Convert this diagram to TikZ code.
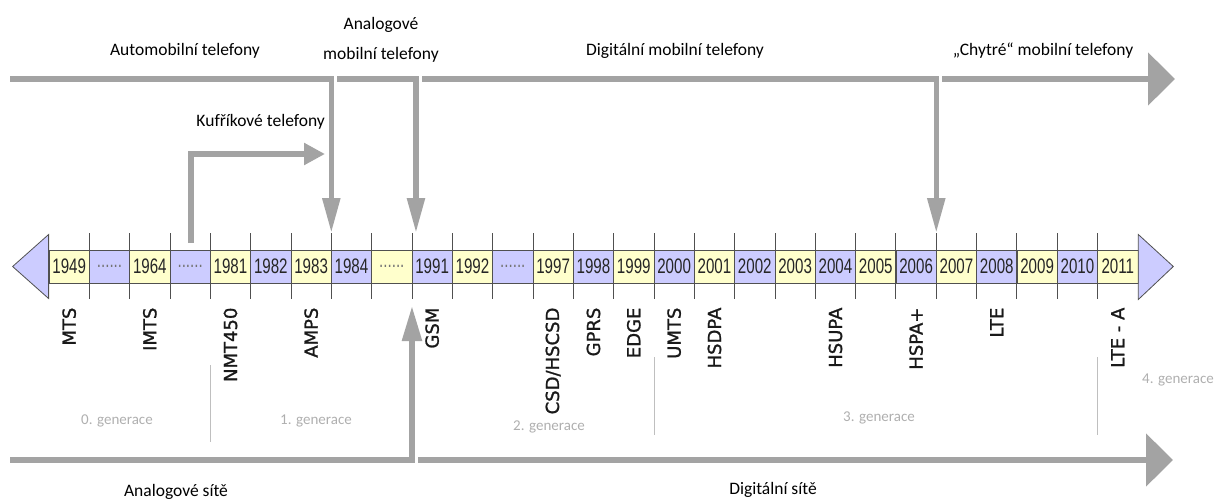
\documentclass[tikz,border=0pt]{standalone}
\usepackage{fontspec}
\usepackage{graphicx}
\setmainfont{Carlito}
\newfontfamily\techfont[FakeBold=1.2]{DejaVu Sans}
\newfontfamily\yearfont{Liberation Sans}
\usetikzlibrary{arrows.meta}

\definecolor{cellyellow}{RGB}{255,255,204}
\definecolor{cellblue}{RGB}{204,204,255}
\definecolor{flowgray}{RGB}{163,163,163}
\definecolor{linegray}{RGB}{80,80,80}
\definecolor{gengray}{RGB}{175,175,175}

\newcommand{\gapdots}{{\color{black!55}......}}

\tikzset{
  cellbox/.style={draw=linegray, line width=0.8pt, minimum width=40.33pt, minimum height=33pt, inner sep=0pt, font=\yearfont\fontsize{21}{21}\selectfont, text=black!85},
  tick/.style={draw=linegray, line width=0.9pt},
  bandtip/.style={draw=linegray, line width=0.8pt, fill=cellblue},
  tech/.style={font=\techfont\fontsize{18}{18}\selectfont, text=black!90, rotate=90, anchor=east, inner sep=0pt},
  lbl/.style={font=\fontsize{17.5}{21}\selectfont, text=black, inner sep=0pt},
  gen/.style={font=\fontsize{15}{15}\selectfont, text=gengray, inner sep=0pt},
  genline/.style={draw=gengray!80, line width=0.7pt},
  flow/.style={draw=flowgray, line width=5.5pt},
  downtip/.style={-{Triangle[length=35pt,width=17pt]}},
  uptip/.style={-{Triangle[length=35pt,width=19pt]}},
  casetip/.style={-{Triangle[length=21pt,width=21pt]}},
  bigtip/.style={-{Triangle[length=27pt,width=52pt]}}
}

\begin{document}
\begin{tikzpicture}[x=1pt,y=-1pt]
  \useasboundingbox (0,0) rectangle (1214,503);
  \foreach \yr [count=\i from 0] in {1949,\gapdots,1964,\gapdots,1981,1982,1983,1984,\gapdots,1991,1992,\gapdots,1997,1998,1999,2000,2001,2002,2003,2004,2005,2006,2007,2008,2009,2010,2011}
  {
    \ifodd\i \def\cellcol{cellblue}\else \def\cellcol{cellyellow}\fi
    \node[cellbox, fill=\cellcol] (c\i) at ({69.17+40.33*\i},266.5) {\scalebox{0.72}[1]{\yr}};
  }
  \draw[bandtip] ([yshift=32pt]c0.west) -- ([xshift=-36pt]c0.west) -- ([yshift=-32pt]c0.west) -- cycle;
  \draw[bandtip] ([yshift=32pt]c26.east) -- ([xshift=35pt]c26.east) -- ([yshift=-33pt]c26.east) -- cycle;
  \foreach \i in {1,...,26}
  {
    \coordinate (top\i) at ({49+40.33*\i},233);
    \coordinate (bot\i) at ({49+40.33*\i},299);
    \draw[tick] (top\i) -- (bot\i);
  }

  \foreach \x/\name in {0/MTS,2/IMTS,4/NMT450,6/AMPS,9/GSM,12/{CSD/HSCSD},13/GPRS,14/EDGE,15/UMTS,16/HSDPA,19/HSUPA,21/HSPA+,23/LTE,26/LTE - A}
    \node[tech] (t\x) at ([yshift=-24pt]c\x.south) {\name};

  \draw[genline] ([yshift=-66pt]bot4) -- ([yshift=-143pt]bot4);
  \draw[genline] ([yshift=-58pt]bot15) -- ([yshift=-136pt]bot15);
  \draw[genline] ([yshift=-58pt]bot26) -- ([yshift=-136pt]bot26);
  \node[gen] (g0) at (117,421) {0. generace};
  \node[gen] (g1) at (316,421) {1. generace};
  \node[gen] (g2) at (549,427) {2. generace};
  \node[gen] (g3) at (879,418) {3. generace};
  \node[gen] (g4) at (1178,380) {4. generace};

  \coordinate (autoStart) at (10,79);
  \coordinate (anaStart) at (337,79);
  \coordinate (digStart) at (422,79);
  \coordinate (smartStart) at (942,79);
  \coordinate (smartEnd) at (1175,79);
  \draw[flow, downtip] (autoStart) -| (top7);
  \draw[flow, downtip] (anaStart) -| ([xshift=4pt]top9);
  \draw[flow, downtip] (digStart) -| (top22);
  \draw[flow, bigtip] (smartStart) -- (smartEnd);
  \coordinate (caseStart) at (191,243);
  \coordinate (caseEnd) at (325,154);
  \draw[flow, casetip] (caseStart) |- (caseEnd);

  \coordinate (anaNetStart) at (10,460);
  \coordinate (digNetStart) at (418,460);
  \coordinate (digNetEnd) at (1173,460);
  \draw[flow, uptip] (anaNetStart) -| ([yshift=-7pt]bot9);
  \draw[flow, bigtip] (digNetStart) -- (digNetEnd);

  \node[lbl] (autoLbl) at (185,51) {Automobilní telefony};
  \node[lbl, align=center, font=\fontsize{17.5}{30}\selectfont] (anaLbl) at (381,40) {Analogové\\mobilní telefony};
  \node[lbl] (digLbl) at (675,51) {Digitální mobilní telefony};
  \node[lbl] (smartLbl) at (1043,51) {„Chytré“ mobilní telefony};
  \node[lbl, anchor=east] (caseLbl) at (325,122) {Kufříkové telefony};
  \node[lbl] (anaNetLbl) at (176,492) {Analogové sítě};
  \node[lbl] (digNetLbl) at (773,490) {Digitální sítě};
\end{tikzpicture}
\end{document}
